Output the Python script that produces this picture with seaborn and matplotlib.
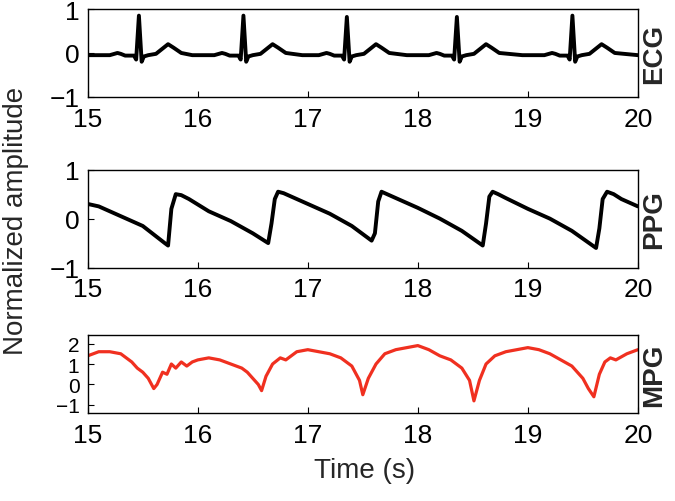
import numpy as np
import pandas as pd
import matplotlib.pyplot as plt
import seaborn as sns

sns.set_style("ticks")
plt.rcParams["font.family"] = "Liberation Sans"

ecg_t = [15.00, 15.20, 15.27, 15.30, 15.34, 15.42, 15.44, 15.465, 15.49, 15.51, 15.55, 15.62, 15.68, 15.73, 15.78, 15.85, 15.95,
         16.15, 16.22, 16.25, 16.29, 16.37, 16.39, 16.415, 16.44, 16.46, 16.50, 16.57, 16.63, 16.68, 16.73, 16.80, 16.95,
         17.10, 17.17, 17.20, 17.24, 17.31, 17.33, 17.355, 17.38, 17.40, 17.44, 17.51, 17.57, 17.62, 17.67, 17.74, 17.90,
         18.10, 18.17, 18.20, 18.24, 18.31, 18.33, 18.355, 18.38, 18.40, 18.44, 18.51, 18.57, 18.62, 18.67, 18.74, 18.95,
         19.15, 19.22, 19.25, 19.29, 19.36, 19.38, 19.405, 19.43, 19.45, 19.49, 19.56, 19.62, 19.67, 19.72, 19.79, 20.00]
ecg_v = [-0.05, -0.05, 0.0, -0.02, -0.06, -0.06, -0.15, 0.85, -0.2, -0.08, -0.05, -0.02, 0.1, 0.2, 0.12, 0.0, -0.05,
         -0.05, 0.0, -0.02, -0.06, -0.06, -0.15, 0.85, -0.2, -0.08, -0.05, -0.02, 0.1, 0.2, 0.12, 0.0, -0.05,
         -0.05, 0.0, -0.02, -0.06, -0.06, -0.15, 0.82, -0.2, -0.08, -0.05, -0.02, 0.1, 0.2, 0.12, 0.0, -0.05,
         -0.05, 0.0, -0.02, -0.06, -0.06, -0.15, 0.82, -0.2, -0.08, -0.05, -0.02, 0.1, 0.2, 0.12, 0.0, -0.05,
         -0.05, 0.0, -0.02, -0.06, -0.06, -0.15, 0.85, -0.2, -0.08, -0.05, -0.02, 0.1, 0.2, 0.12, 0.0, -0.05]

ppg_t = [15.00, 15.10, 15.30, 15.50, 15.70, 15.73, 15.76, 15.80, 15.85, 15.92, 16.10, 16.30, 16.50, 16.64, 16.67, 16.70, 16.73, 16.78, 16.85, 17.00,
         17.20, 17.40, 17.58, 17.61, 17.64, 17.67, 17.72, 17.80, 18.00, 18.20, 18.40, 18.59, 18.62, 18.65, 18.68, 18.73, 18.80, 19.00,
         19.20, 19.40, 19.62, 19.65, 19.68, 19.72, 19.78, 19.85, 20.00]
ppg_v = [0.30, 0.25, 0.05, -0.15, -0.50, -0.55, 0.20, 0.50, 0.48, 0.40, 0.15, -0.05, -0.30, -0.50, -0.10, 0.40, 0.55, 0.52, 0.45, 0.30,
         0.10, -0.15, -0.45, -0.30, 0.35, 0.55, 0.50, 0.42, 0.22, 0.00, -0.25, -0.55, -0.10, 0.45, 0.55, 0.50, 0.42, 0.20,
         0.00, -0.25, -0.60, -0.20, 0.40, 0.55, 0.50, 0.40, 0.25]

mpg_t = [15.00, 15.05, 15.10, 15.20, 15.30, 15.40, 15.45, 15.50, 15.55, 15.60, 15.63, 15.68, 15.72, 15.76, 15.80, 15.85, 15.90, 15.95, 16.00,
         16.10, 16.20, 16.30, 16.40, 16.45, 16.50, 16.55, 16.58, 16.62, 16.68, 16.75, 16.80, 16.90, 17.00, 17.10, 17.20, 17.30, 17.40,
         17.47, 17.50, 17.55, 17.62, 17.70, 17.80, 17.90, 18.00, 18.10, 18.20, 18.30, 18.40, 18.47, 18.51, 18.56, 18.62, 18.70, 18.80,
         18.90, 19.00, 19.10, 19.20, 19.30, 19.40, 19.50, 19.55, 19.60, 19.65, 19.70, 19.75, 19.80, 19.90, 20.00]
mpg_v = [1.4, 1.5, 1.6, 1.6, 1.5, 1.1, 0.8, 0.6, 0.3, -0.2, 0.0, 0.6, 0.5, 1.0, 0.8, 1.1, 0.9, 1.1, 1.2,
         1.3, 1.2, 1.0, 0.8, 0.6, 0.3, 0.0, -0.3, 0.4, 1.0, 1.3, 1.2, 1.6, 1.7, 1.6, 1.5, 1.3, 0.9,
         0.2, -0.5, 0.3, 1.0, 1.5, 1.7, 1.8, 1.9, 1.7, 1.4, 1.2, 0.8, 0.2, -0.8, 0.2, 1.0, 1.4, 1.6,
         1.7, 1.8, 1.7, 1.5, 1.2, 0.9, 0.3, -0.2, -0.6, 0.5, 1.1, 1.3, 1.2, 1.5, 1.7]

signals = [("ECG", ecg_t, ecg_v, "black", [-1, 0, 1], (-1, 1), 2.8, 19),
           ("PPG", ppg_t, ppg_v, "black", [-1, 0, 1], (-1, 1), 2.8, 19),
           ("MPG", mpg_t, mpg_v, "#f03020", [-1, 0, 1, 2], (-1.4, 2.4), 2.3, 15)]
x_ticks = [15, 16, 17, 18, 19, 20]

fig = plt.figure(figsize=(6.75, 5.02), dpi=100)
boxes = [[0.13, 0.805, 0.815, 0.175], [0.13, 0.465, 0.815, 0.195], [0.13, 0.175, 0.815, 0.155]]
for (name, t, v, col, yt, yl, lw, yfs), box in zip(signals, boxes):
    ax = fig.add_axes(box)
    df = pd.DataFrame({"t": t, "v": v})
    sns.lineplot(data=df, x="t", y="v", ax=ax, color=col, linewidth=lw)
    ax.set_xlim(15, 20)
    ax.set_ylim(*yl)
    ax.set_xticks(x_ticks)
    ax.set_yticks(yt)
    ax.tick_params(axis="x", labelsize=19, direction="in", length=4, colors="black", pad=7)
    ax.tick_params(axis="y", labelsize=yfs, direction="in", length=4, colors="black", pad=6)
    ax.set_xlabel("")
    ax.set_ylabel("")
    for s in ax.spines.values():
        s.set_visible(True)
        s.set_linewidth(1)
        s.set_color("black")
    ax.text(1.005, 0.5, name, transform=ax.transAxes, rotation=90, va="center", ha="left",
            fontsize=20, fontweight="bold")

fig.text(0.005, 0.56, "Normalized amplitude", rotation=90, va="center", ha="left", fontsize=20)
fig.text(0.54, 0.035, "Time (s)", ha="center", va="bottom", fontsize=20)
fig.savefig("out.png", dpi=100)
